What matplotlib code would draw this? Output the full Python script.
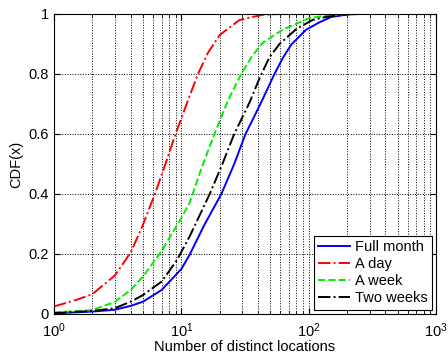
import matplotlib
matplotlib.use("Agg")
import matplotlib.pyplot as plt
from matplotlib.ticker import LogLocator, FixedLocator

plt.rcParams['font.family'] = ['Liberation Sans', 'DejaVu Sans']
plt.rcParams['mathtext.fontset'] = 'custom'
plt.rcParams['mathtext.rm'] = 'Liberation Sans'
plt.rcParams['mathtext.default'] = 'regular'

# values
month_x = [1, 2, 3, 4, 5, 7, 10, 11.6, 15.2, 20.6, 26, 31.9, 37.5, 43.5, 53.8,
           62.9, 73, 95, 121, 150, 200, 250, 1000]
month_y = [0.002, 0.008, 0.014, 0.027, 0.041, 0.08, 0.15, 0.197, 0.298, 0.4, 0.5,
           0.6, 0.66, 0.716, 0.8, 0.855, 0.898, 0.947, 0.972, 0.99, 0.998, 1.0, 1.0]

day_x = [1, 1.5, 2, 3, 4, 4.86, 6.2, 7.5, 9.0, 11, 13.5, 16.1, 20, 28.6, 43, 60, 1000]
day_y = [0.025, 0.047, 0.066, 0.128, 0.205, 0.285, 0.4, 0.5, 0.6, 0.7, 0.8, 0.869,
         0.93, 0.98, 0.997, 1.0, 1.0]

week_x = [1, 2, 3, 4, 5, 7, 10, 11.6, 14.5, 18.2, 23.3, 29.5, 36, 43, 62, 101, 150,
          200, 1000]
week_y = [0.005, 0.013, 0.04, 0.08, 0.125, 0.21, 0.32, 0.37, 0.49, 0.6, 0.713, 0.8,
          0.86, 0.902, 0.947, 0.986, 0.997, 1.0, 1.0]

two_x = [1, 2, 3, 4, 5, 7, 9.25, 11.6, 16.7, 21, 26, 34.3, 41, 49, 59, 80, 107, 136,
         210, 1000]
two_y = [0.003, 0.01, 0.019, 0.041, 0.063, 0.108, 0.18, 0.258, 0.4, 0.5, 0.6, 0.705,
         0.785, 0.855, 0.9, 0.95, 0.98, 0.99, 1.0, 1.0]

labels = ["Full month", "A day", "A week", "Two weeks"]
xticks = [1, 10, 100, 1000]
xtick_labels = ["$10^{0}$", "$10^{1}$", "$10^{2}$", "$10^{3}$"]

fig = plt.figure(figsize=(4.48, 3.58), dpi=100)
ax = fig.add_axes([0.1205, 0.123, 0.853, 0.838])

ax.plot(month_x, month_y, color="#0000ff", ls="-", lw=1.4, label=labels[0])
ax.plot(day_x, day_y, color="#ff0000", ls="-.", lw=1.4, label=labels[1])
ax.plot(week_x, week_y, color="#00ee00", ls="--", lw=1.4, label=labels[2])
ax.plot(two_x, two_y, color="black", ls="-.", lw=1.4, label=labels[3])

ax.set_xscale("log")
ax.set_xlim(1, 1000)
ax.set_ylim(0, 1)
ax.set_yticks([0, 0.2, 0.4, 0.6, 0.8, 1])
ax.set_yticklabels(["0", "0.2", "0.4", "0.6", "0.8", "1"])
ax.xaxis.set_major_locator(FixedLocator(xticks))
ax.set_xticklabels(xtick_labels)
ax.xaxis.set_minor_locator(LogLocator(base=10, subs=range(2, 10)))

ax.grid(True, which="major", ls=":", color="black", lw=0.7)
ax.grid(True, which="minor", axis="x", ls=":", color="black", lw=0.7)
ax.tick_params(which="both", direction="in", top=True, right=True, labelsize=10.5)
ax.tick_params(which="major", length=4)
ax.tick_params(which="minor", length=2)
ax.tick_params(axis="x", pad=5)

ax.set_xlabel("Number of distinct locations", fontsize=10.5, labelpad=0)
ax.set_ylabel("CDF(x)", fontsize=10.5)

leg = ax.legend(loc="lower right", fontsize=10.5, fancybox=False, framealpha=1,
                edgecolor="black", handlelength=2.2, borderpad=0.3,
                labelspacing=0.2, handletextpad=0.3, borderaxespad=0.3)
leg.get_frame().set_linewidth(0.8)

fig.savefig("out.png", dpi=100)
